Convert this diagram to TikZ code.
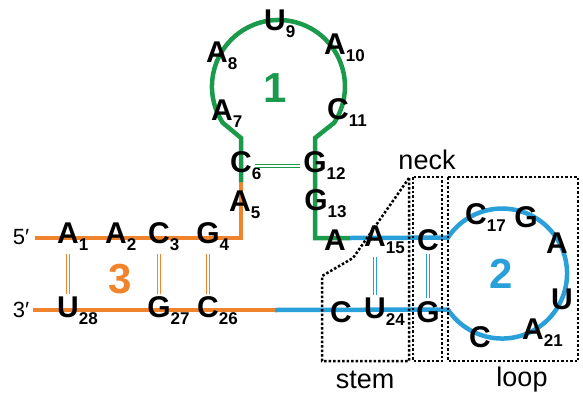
\documentclass[tikz,border=0pt]{standalone}
\usepackage{fontspec}
\setmainfont{Liberation Sans}
\definecolor{stemgreen}{RGB}{26, 154, 74}
\definecolor{armorange}{RGB}{240, 132, 44}
\definecolor{loopblue}{RGB}{42, 160, 218}
\usepackage{tikz}
\usetikzlibrary{positioning, calc}
\newcommand{\subsz}{\fontsize{17pt}{17pt}\selectfont}
\newcommand{\nt}[2]{#1\rlap{\raisebox{-7pt}{\subsz #2}}}
\tikzset{
  base/.style={font=\fontsize{30pt}{30pt}\selectfont\bfseries, inner sep=3pt},
  strand/.style={line width=4.5pt},
  pair/.style={line width=1.2pt, double=white, double distance=2pt},
  region/.style={line width=2.5pt, dash pattern=on 2.5pt off 2pt},
  tag/.style={font=\fontsize{27pt}{27pt}\selectfont},
  domainno/.style={font=\fontsize{42pt}{42pt}\selectfont\bfseries},
}

\begin{document}
\begin{tikzpicture}[x=1pt, y=-1pt]
  \useasboundingbox (0,0) rectangle (583,394);

  % backbone
  \draw[strand, armorange] (241,182) -- (241,238) -- (35,238);
  \draw[strand, armorange] (33,310) -- (275,310);
  \draw[strand, stemgreen] (241,182) -- (241,138) -- (222.7,122.7)
    arc[start angle=147, end angle=393, radius=66.5] -- (315,138) -- (315,238) -- (350,238);
  \draw[strand, loopblue] (275,310) -- (447.9,309.5)
    arc[start angle=146.4, end angle=-146.4, radius=65] -- (350,238);

  % stem / neck / loop regions
  \draw[region] (409,178) -- (353,258) -- (322,276) -- (322,361) -- (409,361) -- cycle;
  \draw[region] (413,177) rectangle (442,361);
  \draw[region] (448,177) rectangle (578,361);

  % ends
  \node[font=\fontsize{22pt}{22pt}\selectfont] (five) at (21,237) {5\char"2032};
  \node[font=\fontsize{22pt}{22pt}\selectfont] (three) at (21,310) {3\char"2032};

  % 5' strand
  \node[base] (a1) at (68,237) {\nt{A}{1}};
  \node[base] (a2) at (116,237) {\nt{A}{2}};
  \node[base] (c3) at (159,237) {\nt{C}{3}};
  \node[base] (g4) at (208,237) {\nt{G}{4}};
  \node[base] (a5) at (240,205) {\nt{A}{5}};
  \node[base] (c6) at (241,166) {\nt{C}{6}};
  \node[base] (a7) at (222,114) {\nt{A}{7}};
  \node[base] (a8) at (217,56) {\nt{A}{8}};
  \node[base] (u9) at (275,24) {\nt{U}{9}};
  \node[base] (a10) at (335,48) {\nt{A}{10}};
  \node[base] (c11) at (338,113) {\nt{C}{11}};
  \node[base] (g12) at (315,166) {\nt{G}{12}};
  \node[base] (g13) at (316,204) {\nt{G}{13}};
  \node[base] (a14) at (335,240) {A};
  \node[base] (a15) at (375,240) {\nt{A}{15}};
  \node[base] (c16) at (428,240) {C};
  \node[base] (c17) at (476,218) {\nt{C}{17}};
  \node[base] (g18) at (526,217) {G};
  \node[base] (a19) at (557,243) {A};
  \node[base] (u20) at (562,299) {U};
  \node[base] (a21) at (533,333) {\nt{A}{21}};
  \node[base] (c22) at (480,337) {C};
  \node[base] (g23) at (428,312) {G};
  \node[base] (u24) at (375,312) {\nt{U}{24}};
  \node[base] (c25) at (341,312) {C};
  \node[base] (c26) at (208,311) {\nt{C}{26}};
  \node[base] (g27) at (159,311) {\nt{G}{27}};
  \node[base] (u28) at (68,311) {\nt{U}{28}};

  % base pairs
  \draw[pair, armorange] (a1) -- (u28);
  \draw[pair, armorange] (c3) -- (g27);
  \draw[pair, armorange] (g4) -- (c26);
  \draw[pair, stemgreen] (c6) -- (g12);
  \draw[pair, loopblue] (a15) -- (u24);
  \draw[pair, loopblue] (c16) -- (g23);

  % domains
  \node[domainno, text=stemgreen] (d1) at (275,88) {1};
  \node[domainno, text=loopblue] (d2) at (501,274) {2};
  \node[domainno, text=armorange] (d3) at (120,279) {3};

  \node[tag] (neck) at (427,160) {neck};
  \node[tag] (stem) at (365,380) {stem};
  \node[tag] (loop) at (522,380) {loop};
\end{tikzpicture}
\end{document}
